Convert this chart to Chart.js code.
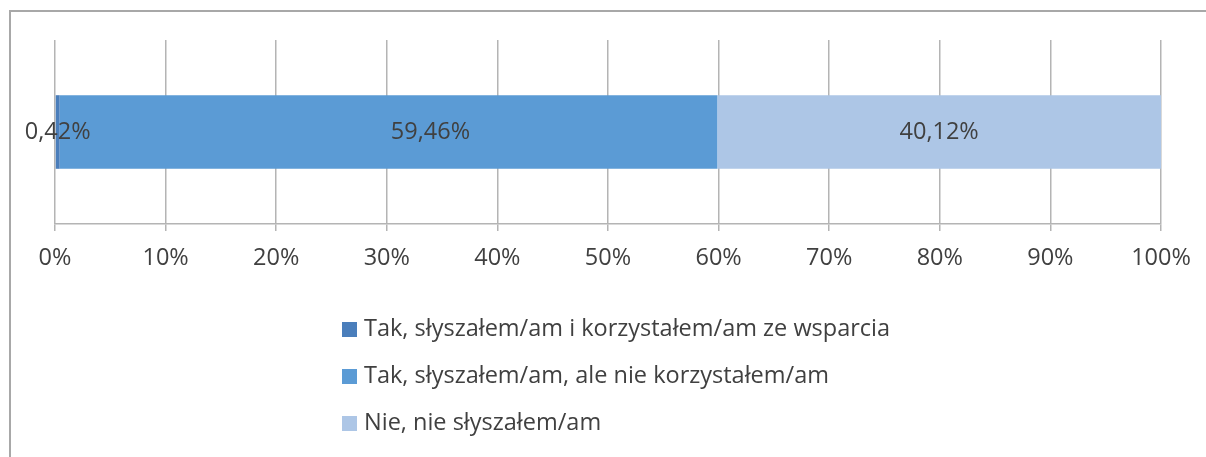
<!DOCTYPE html>
<html>
<head>
<meta charset="utf-8">
<script src="https://cdn.jsdelivr.net/npm/chart.js@4/dist/chart.umd.min.js"></script>
<style>
  html, body { margin: 0; padding: 0; background: #fff; }
  #wrap { position: relative; width: 1206px; height: 457px; overflow: hidden; }
  #frame {
    position: absolute; left: 9px; top: 10px; width: 1220px; height: 480px;
    border-left: 2px solid #a8a8a8; border-top: 2px solid #a8a8a8;
  }
  canvas { position: absolute; left: 0; top: 0; }
</style>
</head>
<body>
<div id="wrap">
  <div id="frame"></div>
  <canvas id="chart" width="1206" height="457"></canvas>
</div>
<script>
document.addEventListener("DOMContentLoaded", () => {

  // odpowiedzi (procent respondentów)
  const categories = [''];
  const seriesNames = [
    'Tak, słyszałem/am i korzystałem/am ze wsparcia',
    'Tak, słyszałem/am, ale nie korzystałem/am',
    'Nie, nie słyszałem/am'
  ];
  const seriesValues = [0.42, 59.46, 40.12];
  const seriesColors = ['#4a7ebb', '#5b9bd5', '#adc6e6'];
  const tickLabels = ['0%', '10%', '20%', '30%', '40%', '50%', '60%', '70%', '80%', '90%', '100%'];

  const FONT = '"Open Sans", sans-serif';
  const FONT_SIZE = 23.5;
  const TEXT = '#404040';

  // etykiety z wartością na środku każdego odcinka (labelShift = ręczne przesunięcie w px)
  const valueLabels = {
    id: 'valueLabels',
    afterDatasetsDraw(chart) {
      const ctx = chart.ctx;
      ctx.save();
      ctx.font = FONT_SIZE + 'px ' + FONT;
      ctx.fillStyle = TEXT;
      ctx.textAlign = 'center';
      ctx.textBaseline = 'middle';
      chart.data.datasets.forEach((ds, i) => {
        chart.getDatasetMeta(i).data.forEach((bar, j) => {
          const v = ds.data[j];
          const x = (bar.x + bar.base) / 2 + (ds.labelShift || 0);
          ctx.fillText(v.toFixed(2).replace('.', ',') + '%', x, bar.y);
        });
      });
      ctx.restore();
    }
  };

  // legenda w jednej kolumnie pod wykresem
  const columnLegend = {
    id: 'columnLegend',
    afterDraw(chart) {
      const ctx = chart.ctx;
      ctx.save();
      ctx.font = FONT_SIZE + 'px ' + FONT;
      ctx.textBaseline = 'middle';
      chart.data.datasets.forEach((ds, i) => {
        const y = 329 + i * 47;
        ctx.fillStyle = ds.backgroundColor;
        ctx.fillRect(342, y - 7, 15, 15);
        ctx.fillStyle = TEXT;
        ctx.fillText(ds.label, 364, y);
      });
      ctx.restore();
    }
  };

  const labelShifts = [0, 42, 0];

  const ctx = document.getElementById('chart').getContext('2d');
  new Chart(ctx, {
    type: 'bar',
    data: {
      labels: categories,
      datasets: seriesNames.map((name, i) => ({
        label: name,
        data: [seriesValues[i]],
        backgroundColor: seriesColors[i],
        borderWidth: 0,
        barPercentage: 0.4,
        categoryPercentage: 1,
        labelShift: labelShifts[i]
      }))
    },
    options: {
      indexAxis: 'y',
      responsive: false,
      animation: false,
      layout: { padding: { left: 55, right: 45, top: 40, bottom: 183 } },
      scales: {
        x: {
          stacked: true,
          min: 0,
          max: 100,
          afterBuildTicks: (axis) => {
            axis.ticks = tickLabels.map((t, i) => ({ value: i * 10 }));
          },
          afterFit: (axis) => { axis.height = 50; },
          ticks: {
            callback: (v, i) => tickLabels[i],
            font: { family: FONT, size: FONT_SIZE },
            color: TEXT,
            padding: 13,
            maxRotation: 0
          },
          grid: { color: '#b4b4b4', lineWidth: 1.5, tickLength: 7, drawTicks: true },
          border: { display: true, color: '#b4b4b4', width: 1.5 }
        },
        y: {
          stacked: true,
          display: false
        }
      },
      plugins: {
        legend: { display: false },
        tooltip: { enabled: false }
      }
    },
    plugins: [valueLabels, columnLegend]
  });
});
</script>
</body>
</html>
